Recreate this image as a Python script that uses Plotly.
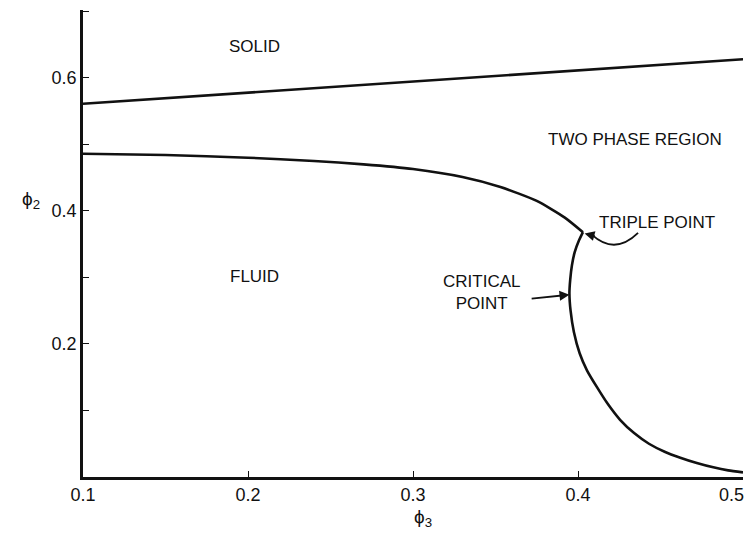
import plotly.graph_objects as go

# Solid / two-phase boundary (straight line)
solid_x = [0.100, 0.500]
solid_y = [0.561, 0.628]

# Fluid / two-phase boundary, from the left axis to the triple point
upper_x = [0.100, 0.150, 0.200, 0.240, 0.270, 0.300, 0.330, 0.353, 0.375, 0.392, 0.403]
upper_y = [0.486, 0.484, 0.480, 0.475, 0.470, 0.463, 0.451, 0.436, 0.415, 0.390, 0.368]

# Branch from the triple point through the critical point down to the x axis
lower_x = [0.403, 0.4005, 0.398, 0.3963, 0.3953, 0.3948, 0.3955, 0.3975, 0.401, 0.4055,
           0.4115, 0.418, 0.4255, 0.434, 0.443, 0.4525, 0.462, 0.472, 0.482, 0.491, 0.500]
lower_y = [0.368, 0.355, 0.338, 0.318, 0.297, 0.276, 0.250, 0.218, 0.186, 0.160,
           0.135, 0.110, 0.086, 0.066, 0.050, 0.038, 0.029, 0.021, 0.0145, 0.010, 0.007]

triple_pt = (0.403, 0.368)
critical_pt = (0.3948, 0.274)

x_ticks = [0.1, 0.2, 0.3, 0.4, 0.5]
x_ticktext = ["0.1", "0.2", "0.3", "0.4", "0.5"]
y_ticks = [0.1, 0.2, 0.3, 0.4, 0.5, 0.6, 0.7]
y_ticktext = ["", "0.2", "", "0.4", "", "0.6", ""]

FONT = "Liberation Sans, Arial, sans-serif"
INK = "#111111"

fig = go.Figure()
line_style = dict(color=INK, width=2.6)
fig.add_trace(go.Scatter(x=solid_x, y=solid_y, mode="lines", line=line_style,
                         hoverinfo="skip"))
fig.add_trace(go.Scatter(x=upper_x, y=upper_y, mode="lines",
                         line=dict(line_style, shape="spline", smoothing=0.6),
                         hoverinfo="skip"))
fig.add_trace(go.Scatter(x=lower_x, y=lower_y, mode="lines",
                         line=dict(line_style, shape="spline", smoothing=0.6),
                         hoverinfo="skip"))

# Curved leader for the triple-point label
fig.add_shape(type="path", xref="x", yref="y",
              path="M 0.4364,0.3669 Q 0.4224,0.3330 0.4085,0.3640",
              line=dict(color=INK, width=1.8))

region_labels = [
    ("SOLID", 0.204, 0.647),
    ("TWO PHASE REGION", 0.4345, 0.507),
    ("FLUID", 0.204, 0.301),
    ("TRIPLE POINT", 0.448, 0.382),
]
for text, tx, ty in region_labels:
    fig.add_annotation(x=tx, y=ty, xref="x", yref="y", text=text, showarrow=False,
                       font=dict(family=FONT, size=17, color=INK))

fig.add_annotation(x=0.3415, y=0.278, xref="x", yref="y",
                   text="CRITICAL<br>POINT", showarrow=False, align="center",
                   font=dict(family=FONT, size=17, color=INK))

# Arrow heads
fig.add_annotation(x=critical_pt[0], y=critical_pt[1], xref="x", yref="y",
                   ax=0.371, ay=0.268, axref="x", ayref="y", text="",
                   showarrow=True, arrowhead=2, arrowsize=1.1, arrowwidth=1.8,
                   arrowcolor=INK, standoff=0)
fig.add_annotation(x=triple_pt[0] + 0.001, y=triple_pt[1] - 0.002, xref="x", yref="y",
                   ax=0.4110, ay=0.3615, axref="x", ayref="y", text="",
                   showarrow=True, arrowhead=2, arrowsize=1.1, arrowwidth=1.8,
                   arrowcolor=INK, standoff=0)

# Axis titles
fig.add_annotation(x=-0.095, y=0.417, xref="paper", yref="y",
                   text="ϕ<sub>2</sub>", showarrow=False,
                   font=dict(family=FONT, size=19, color=INK))
fig.add_annotation(x=0.306, y=-0.118, xref="x", yref="paper",
                   text="ϕ<sub>3</sub>", showarrow=False,
                   font=dict(family=FONT, size=19, color=INK))

# The last x tick label sits at the figure edge; right-align it so it stays visible
last_label = x_ticktext[-1]
x_ticktext_axis = x_ticktext[:-1] + [""]
fig.add_annotation(x=x_ticks[-1], y=-0.0385, xref="x", yref="paper",
                   text=last_label, showarrow=False, xanchor="right", xshift=3,
                   yanchor="middle",
                   font=dict(family=FONT, size=18, color=INK))

axis_common = dict(showgrid=False, zeroline=False, showline=True,
                   linecolor=INK, linewidth=2.6, ticks="inside", ticklen=6,
                   tickwidth=1.4, tickcolor=INK, mirror=False,
                   automargin=False,
                   tickfont=dict(family=FONT, size=18, color=INK))

fig.update_layout(
    width=747, height=537,
    margin=dict(l=83, r=4, t=10, b=60, autoexpand=False),
    paper_bgcolor="white", plot_bgcolor="white",
    showlegend=False,
    xaxis=dict(axis_common, range=[0.1, 0.5], tickvals=x_ticks, ticktext=x_ticktext_axis),
    yaxis=dict(axis_common, range=[0.0, 0.702], tickvals=y_ticks, ticktext=y_ticktext),
)

fig.write_html("out.html")
